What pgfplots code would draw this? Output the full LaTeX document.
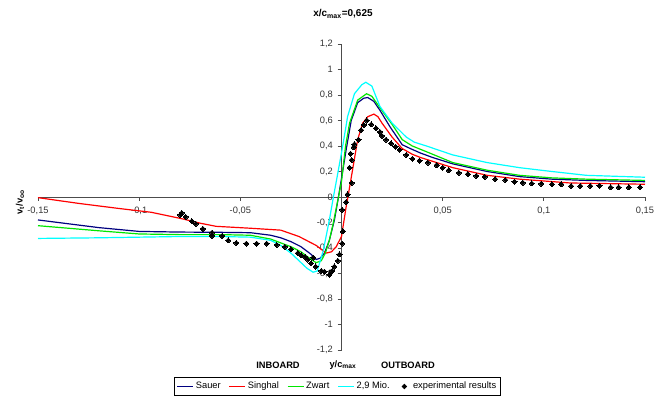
\documentclass[border=0pt]{standalone}
\usepackage{fontspec}
\setmainfont{Liberation Sans}
\usepackage{pgfplots}
\pgfplotsset{compat=1.18}
\definecolor{sauer}{RGB}{0,0,128}
\definecolor{singhal}{RGB}{255,0,0}
\definecolor{zwart}{RGB}{0,230,0}
\definecolor{mio}{RGB}{0,255,255}
\begin{document}
\begin{tikzpicture}
\useasboundingbox (0,0) rectangle (501bp,302.25bp);
\begin{axis}[
 at={(28.5bp,39.75bp)}, anchor=south west,
 scale only axis, width=455.25bp, height=229.5bp,
 xmin=-0.15, xmax=0.15, ymin=-1.2, ymax=1.2,
 axis lines=middle, axis line style={-, line width=0.6pt, black!70},
 xtick={-0.15,-0.1,-0.05,0.05,0.1,0.15},
 ytick={-1.2,-1,-0.8,-0.6,-0.4,-0.2,0,0.2,0.4,0.6,0.8,1,1.2},
 tick align=outside, major tick length=3bp, tick style={black!70, line width=0.6pt},
 hide obscured x ticks=false, hide obscured y ticks=false,
 ticklabel style={font=\fontsize{7}{8}\selectfont, text=black!80},
 xticklabel style={yshift=-1bp},
 /pgf/number format/use comma, /pgf/number format/fixed, /pgf/number format/precision=2,
 /pgf/number format/assume math mode=true,
 clip=false,
 legend columns=5,
 legend style={at={(0.4934,-0.1193)}, anchor=center, draw=black, line width=0.6pt,
   font=\fontsize{7}{8}\selectfont, inner xsep=2bp, inner ysep=1.5bp,
   nodes={inner xsep=1.5bp},
   /tikz/every even column/.append style={column sep=4.5bp}},
 legend image code/.code={\draw[#1] (0bp,0bp) -- (12bp,0bp);},
]
\addplot[sauer, line width=0.9pt] coordinates {
(-0.15,-0.18) (-0.12,-0.24) (-0.10,-0.27) (-0.08,-0.275) (-0.06,-0.277) (-0.045,-0.28)
(-0.035,-0.30) (-0.03,-0.32) (-0.025,-0.35) (-0.02,-0.39) (-0.015,-0.45) (-0.0125,-0.49)
(-0.0105,-0.48) (-0.0084,-0.44) (-0.006,-0.34) (-0.0035,-0.18) (-0.0015,0.0)
(0.0023,0.37) (0.0048,0.60) (0.008,0.74) (0.011,0.775) (0.013,0.78) (0.016,0.75)
(0.019,0.68) (0.024,0.55) (0.030,0.41) (0.034,0.38) (0.039,0.345) (0.045,0.31)
(0.055,0.26) (0.072,0.20) (0.088,0.16) (0.104,0.14) (0.121,0.13) (0.15,0.12)};
\addlegendentry{Sauer}
\addplot[singhal, line width=0.9pt] coordinates {
(-0.15,-0.005) (-0.13,-0.05) (-0.11,-0.09) (-0.094,-0.12) (-0.079,-0.17) (-0.07,-0.205)
(-0.062,-0.23) (-0.045,-0.245) (-0.03,-0.26) (-0.021,-0.31) (-0.0125,-0.38) (-0.0076,-0.44)
(-0.005,-0.43) (-0.0026,-0.39) (0,-0.31) (0.0023,-0.076) (0.0035,0.03) (0.0064,0.30)
(0.008,0.45) (0.0105,0.58) (0.013,0.63) (0.016,0.65) (0.018,0.63) (0.020,0.58)
(0.025,0.47) (0.030,0.38) (0.035,0.335) (0.039,0.31) (0.045,0.28) (0.055,0.23)
(0.072,0.17) (0.088,0.14) (0.113,0.11) (0.15,0.10)};
\addlegendentry{Singhal}
\addplot[zwart, line width=0.9pt] coordinates {
(-0.15,-0.225) (-0.12,-0.265) (-0.10,-0.29) (-0.08,-0.295) (-0.06,-0.295) (-0.045,-0.30)
(-0.035,-0.33) (-0.03,-0.36) (-0.025,-0.39) (-0.02,-0.43) (-0.015,-0.49) (-0.0125,-0.515)
(-0.010,-0.50) (-0.008,-0.44) (-0.006,-0.34) (-0.004,-0.20) (-0.0025,-0.08) (-0.0015,0.0)
(0,0.12) (0.002,0.40) (0.004,0.58) (0.008,0.76) (0.0124,0.81) (0.015,0.79) (0.019,0.70)
(0.025,0.57) (0.030,0.45) (0.035,0.40) (0.042,0.355) (0.055,0.27) (0.072,0.21)
(0.088,0.17) (0.104,0.15) (0.121,0.14) (0.15,0.13)};
\addlegendentry{Zwart}
\addplot[mio, line width=0.9pt] coordinates {
(-0.15,-0.325) (-0.12,-0.32) (-0.10,-0.315) (-0.08,-0.31) (-0.06,-0.31) (-0.045,-0.315)
(-0.035,-0.34) (-0.03,-0.38) (-0.025,-0.44) (-0.021,-0.50) (-0.017,-0.56) (-0.014,-0.59)
(-0.012,-0.58) (-0.009,-0.42) (-0.006,-0.18) (-0.004,0.0) (-0.0026,0.12) (0.0005,0.39)
(0.003,0.63) (0.0064,0.81) (0.01,0.88) (0.012,0.90) (0.015,0.87) (0.019,0.71)
(0.025,0.58) (0.032,0.47) (0.036,0.43) (0.042,0.40) (0.055,0.33) (0.072,0.27)
(0.088,0.23) (0.104,0.20) (0.121,0.17) (0.15,0.155)};
\addlegendentry{2,9 Mio.}
\addplot[only marks, mark=square*, mark size=1.35pt, black, mark options={rotate=45, line width=0pt},
 legend image code/.code={\path[draw=none] (0bp,0bp) -- (10bp,0bp); \path plot[mark=square*, mark size=1.2pt, mark options={rotate=45, fill=black, draw=black}] coordinates {(5bp,0bp)};}] coordinates {
(-0.0797,-0.14) (-0.079,-0.125) (-0.077,-0.155) (-0.074,-0.19) (-0.072,-0.21) (-0.0685,-0.25)
(-0.064,-0.28) (-0.064,-0.305) (-0.059,-0.305) (-0.056,-0.34) (-0.052,-0.36) (-0.047,-0.365)
(-0.042,-0.365) (-0.037,-0.365) (-0.032,-0.375) (-0.028,-0.39) (-0.025,-0.41) (-0.0216,-0.44)
(-0.020,-0.455) (-0.018,-0.47) (-0.0166,-0.49) (-0.014,-0.475) (-0.015,-0.52) (-0.0128,-0.545)
(-0.010,-0.58) (-0.0084,-0.585) (-0.006,-0.61) (-0.0046,-0.58) (-0.0035,-0.545) (-0.0018,-0.50)
(-0.001,-0.45) (0.0003,-0.365) (0.0007,-0.27) (0.0003,-0.10) (0.0023,-0.04) (0.003,0.02)
(0.005,0.11) (0.004,0.23) (0.005,0.29) (0.0045,0.34) (0.006,0.39) (0.0064,0.415)
(0.0084,0.45) (0.0097,0.525) (0.011,0.565) (0.0125,0.60) (0.0147,0.57) (0.017,0.54)
(0.019,0.51) (0.020,0.48) (0.022,0.45) (0.0245,0.42) (0.0267,0.395) (0.0287,0.37)
(0.032,0.33) (0.035,0.30) (0.0386,0.285) (0.0427,0.27) (0.047,0.25) (0.050,0.23)
(0.053,0.21) (0.058,0.19) (0.0625,0.18) (0.0666,0.165) (0.0707,0.157) (0.076,0.14)
(0.081,0.133) (0.0855,0.12) (0.0896,0.112) (0.094,0.107) (0.0987,0.104) (0.104,0.10)
(0.1086,0.10) (0.1135,0.086) (0.118,0.086) (0.123,0.086) (0.1275,0.089) (0.133,0.076)
(0.137,0.076) (0.142,0.076) (0.1476,0.076)};
\addlegendentry{experimental results}
\end{axis}
\node[font=\bfseries\fontsize{7.5}{9}\selectfont] at (257.25bp,291.75bp) {x/c\textsubscript{max}=0,625};
\node[rotate=90, font=\bfseries\fontsize{7}{8}\selectfont] at (15bp,150.75bp) {v\textsubscript{t}/v\textsubscript{oo}};
\node[font=\bfseries\fontsize{7}{8}\selectfont] at (208.5bp,28.5bp) {INBOARD};
\node[font=\bfseries\fontsize{7}{8}\selectfont] at (257.25bp,28.5bp) {y/c\textsubscript{max}};
\node[font=\bfseries\fontsize{7}{8}\selectfont] at (306bp,28.5bp) {OUTBOARD};
\end{tikzpicture}
\end{document}
